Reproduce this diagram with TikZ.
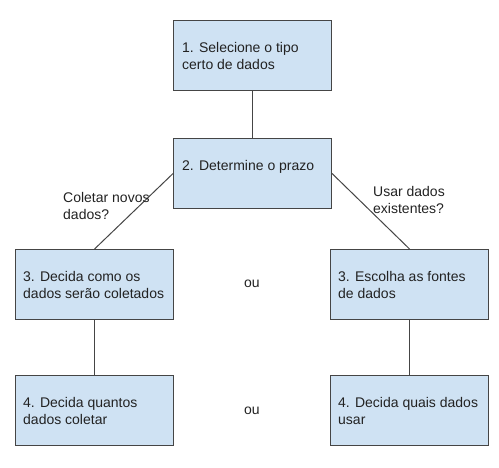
\documentclass[tikz,border=0pt]{standalone}
\usepackage{fontspec}
\setmainfont{Liberation Sans}
\definecolor{boxfill}{HTML}{CFE2F3}
\definecolor{boxline}{HTML}{454545}
\definecolor{ink}{HTML}{222222}
\begin{document}
\begin{tikzpicture}[x=1pt, y=-1pt,
  stepbox/.style={draw=boxline, fill=boxfill, line width=1.1pt, rectangle,
    minimum width=158pt, minimum height=70pt, inner sep=0pt, anchor=north west},
  boxtext/.style={anchor=north west, inner sep=0pt, align=left, text=ink,
    font=\fontsize{14}{17}\selectfont},
  link/.style={draw=boxline, line width=1pt},
  note/.style={inner sep=0pt, align=left, text=ink, font=\fontsize{14}{17}\selectfont}]
  \useasboundingbox (0,0) rectangle (499,467);

  % boxes
  \node[stepbox] (b1)  at (173,20)  {};
  \node[stepbox] (b2)  at (173,138) {};
  \node[stepbox] (b3l) at (15,249)  {};
  \node[stepbox] (b3r) at (330,249) {};
  \node[stepbox] (b4l) at (15,375)  {};
  \node[stepbox] (b4r) at (330,375) {};

  % box texts
  \node[boxtext] (t1)  at ([shift={(9pt,-22pt)}]b1.north west)  {1. Selecione o tipo\\certo de dados};
  \node[boxtext] (t2)  at ([shift={(9pt,-22pt)}]b2.north west)  {2. Determine o prazo};
  \node[boxtext] (t3l) at ([shift={(8pt,-22pt)}]b3l.north west) {3. Decida como os\\dados serão coletados};
  \node[boxtext] (t3r) at ([shift={(8pt,-22pt)}]b3r.north west) {3. Escolha as fontes\\de dados};
  \node[boxtext] (t4l) at ([shift={(8pt,-22pt)}]b4l.north west) {4. Decida quantos\\dados coletar};
  \node[boxtext] (t4r) at ([shift={(8pt,-22pt)}]b4r.north west) {4. Decida quais dados\\usar};

  % connectors
  \draw[link] (b1.south) -- (b2.north);
  \draw[link] (b2.west) -- (b3l.north);
  \draw[link] (b2.east) -- (b3r.north);
  \draw[link] (b3l.south) -- (b4l.north);
  \draw[link] (b3r.south) -- (b4r.north);

  % branch labels
  \node[note, anchor=north west] (q1) at (63,192) {Coletar novos\\dados?};
  \node[note, anchor=north west] (q2) at (373,186) {Usar dados\\existentes?};
  \node[note] (ou1) at (252,284) {ou};
  \node[note] (ou2) at (252,411) {ou};
\end{tikzpicture}
\end{document}
